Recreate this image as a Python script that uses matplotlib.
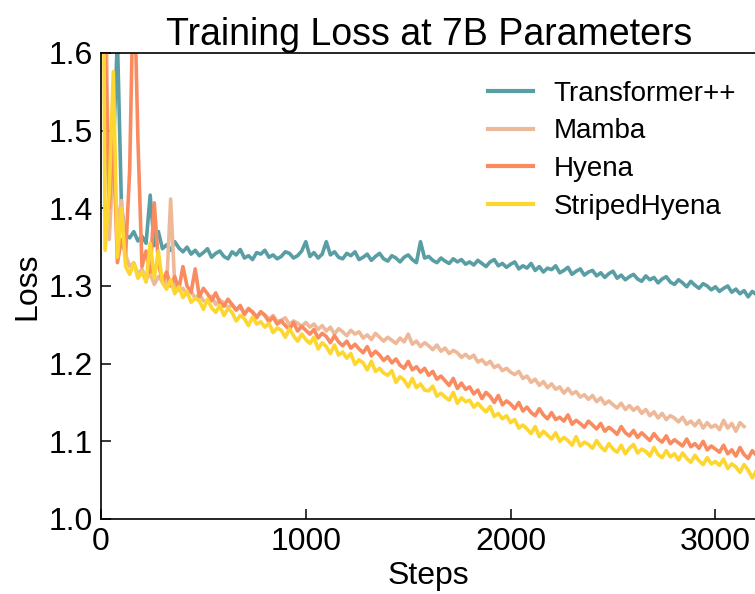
import numpy as np
import matplotlib
matplotlib.use("Agg")
import matplotlib.pyplot as plt

plt.rcParams['font.family'] = ['Liberation Sans', 'DejaVu Sans']

# training steps, one reading every 20 steps
steps = np.arange(0, 3201, 20)

transformer = [
    2.2, 1.55, 1.43, 1.47, 1.62, 1.40, 1.365, 1.362, 1.370, 1.358,
    1.364, 1.355, 1.417, 1.352, 1.370, 1.348, 1.353, 1.346, 1.357, 1.349,
    1.344, 1.350, 1.341, 1.346, 1.339, 1.343, 1.348, 1.337, 1.342, 1.345,
    1.338, 1.335, 1.344, 1.340, 1.347, 1.336, 1.339, 1.334, 1.343, 1.341,
    1.346, 1.337, 1.340, 1.335, 1.338, 1.344, 1.342, 1.336, 1.339, 1.345,
    1.357, 1.338, 1.343, 1.336, 1.341, 1.357, 1.340, 1.344, 1.337, 1.335,
    1.342, 1.339, 1.344, 1.334, 1.337, 1.341, 1.333, 1.338, 1.342, 1.335,
    1.332, 1.339, 1.336, 1.331, 1.337, 1.340, 1.334, 1.330, 1.357, 1.336,
    1.338, 1.333, 1.330, 1.336, 1.332, 1.329, 1.335, 1.331, 1.334, 1.328,
    1.331, 1.327, 1.333, 1.329, 1.325, 1.331, 1.334, 1.326, 1.329, 1.324,
    1.328, 1.331, 1.322, 1.326, 1.323, 1.329, 1.320, 1.325, 1.318, 1.323,
    1.321, 1.326, 1.317, 1.320, 1.324, 1.315, 1.319, 1.322, 1.314, 1.318,
    1.320, 1.313, 1.317, 1.311, 1.316, 1.319, 1.310, 1.314, 1.308, 1.312,
    1.315, 1.309, 1.306, 1.313, 1.308, 1.311, 1.304, 1.309, 1.312, 1.305,
    1.302, 1.308, 1.304, 1.299, 1.306, 1.301, 1.297, 1.303, 1.300, 1.295,
    1.299, 1.293, 1.297, 1.300, 1.292, 1.296, 1.290, 1.294, 1.286, 1.293, 1.289,
]

mamba = [
    2.1, 1.75, 1.36, 1.46, 1.38, 1.41, 1.34, 1.325, 1.33, 1.315,
    1.322, 1.308, 1.316, 1.302, 1.312, 1.306, 1.298, 1.412, 1.300, 1.294,
    1.297, 1.289, 1.293, 1.284, 1.290, 1.281, 1.279, 1.287, 1.276, 1.282,
    1.278, 1.272, 1.276, 1.269, 1.273, 1.265, 1.270, 1.267, 1.261, 1.266,
    1.263, 1.257, 1.262, 1.254, 1.256, 1.259, 1.250, 1.255, 1.252, 1.248,
    1.253, 1.247, 1.251, 1.244, 1.249, 1.242, 1.247, 1.238, 1.245, 1.241,
    1.236, 1.243, 1.238, 1.241, 1.233, 1.237, 1.231, 1.239, 1.234, 1.229,
    1.234, 1.230, 1.226, 1.233, 1.228, 1.238, 1.225, 1.229, 1.222, 1.227,
    1.223, 1.218, 1.224, 1.216, 1.220, 1.213, 1.217, 1.214, 1.208, 1.212,
    1.207, 1.211, 1.202, 1.205, 1.199, 1.203, 1.195, 1.198, 1.191, 1.194,
    1.189, 1.186, 1.190, 1.181, 1.184, 1.176, 1.180, 1.172, 1.177, 1.169,
    1.174, 1.167, 1.170, 1.162, 1.168, 1.161, 1.164, 1.157, 1.160, 1.154,
    1.159, 1.151, 1.156, 1.148, 1.152, 1.147, 1.143, 1.149, 1.141, 1.146,
    1.140, 1.144, 1.136, 1.141, 1.133, 1.138, 1.130, 1.136, 1.128, 1.133,
    1.130, 1.125, 1.131, 1.122, 1.126, 1.120, 1.127, 1.117, 1.124, 1.118,
    1.121, 1.115, 1.127, 1.117, 1.123, 1.113, 1.124, 1.119, np.nan, np.nan, np.nan,
]

hyena = [
    2.2, 1.62, 1.40, 1.49, 1.33, 1.36, 1.34, 1.45, 1.72, 1.49,
    1.325, 1.345, 1.318, 1.407, 1.330, 1.305, 1.318, 1.300, 1.312, 1.296,
    1.325, 1.300, 1.292, 1.322, 1.286, 1.297, 1.290, 1.281, 1.291, 1.279,
    1.274, 1.283, 1.276, 1.269, 1.275, 1.263, 1.271, 1.266, 1.259, 1.267,
    1.262, 1.254, 1.260, 1.251, 1.255, 1.249, 1.244, 1.253, 1.242, 1.248,
    1.243, 1.238, 1.244, 1.233, 1.239, 1.235, 1.227, 1.236, 1.228, 1.223,
    1.229, 1.220, 1.225, 1.219, 1.214, 1.222, 1.210, 1.216, 1.211, 1.204,
    1.209, 1.201, 1.206, 1.198, 1.194, 1.203, 1.192, 1.196, 1.189, 1.194,
    1.185, 1.190, 1.180, 1.184, 1.178, 1.172, 1.181, 1.168, 1.175, 1.167,
    1.170, 1.161, 1.166, 1.155, 1.163, 1.158, 1.150, 1.159, 1.147, 1.152,
    1.148, 1.142, 1.150, 1.139, 1.144, 1.137, 1.133, 1.142, 1.134, 1.129,
    1.137, 1.128, 1.131, 1.126, 1.134, 1.122, 1.127, 1.123, 1.118, 1.126,
    1.121, 1.116, 1.123, 1.113, 1.118, 1.114, 1.109, 1.119, 1.111, 1.107,
    1.114, 1.105, 1.111, 1.106, 1.101, 1.110, 1.103, 1.099, 1.107, 1.097,
    1.102, 1.098, 1.094, 1.103, 1.093, 1.097, 1.091, 1.100, 1.089, 1.094,
    1.090, 1.086, 1.095, 1.084, 1.089, 1.081, 1.092, 1.083, 1.078, 1.088, 1.082,
]

striped = [
    2.3, 1.346, 1.42, 1.576, 1.337, 1.40, 1.325, 1.315, 1.33, 1.31,
    1.318, 1.305, 1.355, 1.310, 1.345, 1.304, 1.296, 1.308, 1.290, 1.299,
    1.285, 1.293, 1.279, 1.284, 1.281, 1.270, 1.283, 1.272, 1.266, 1.275,
    1.262, 1.271, 1.266, 1.255, 1.262, 1.258, 1.249, 1.260, 1.251, 1.254,
    1.247, 1.252, 1.240, 1.246, 1.243, 1.234, 1.245, 1.236, 1.229, 1.238,
    1.231, 1.226, 1.234, 1.219, 1.227, 1.222, 1.213, 1.224, 1.211, 1.215,
    1.207, 1.213, 1.199, 1.205, 1.201, 1.192, 1.203, 1.190, 1.194, 1.188,
    1.185, 1.191, 1.176, 1.183, 1.179, 1.170, 1.181, 1.169, 1.174, 1.166,
    1.165, 1.171, 1.158, 1.162, 1.157, 1.153, 1.163, 1.149, 1.156, 1.151,
    1.153, 1.144, 1.149, 1.143, 1.138, 1.145, 1.132, 1.136, 1.129, 1.133,
    1.124, 1.128, 1.117, 1.121, 1.116, 1.110, 1.119, 1.106, 1.113, 1.108,
    1.103, 1.111, 1.100, 1.105, 1.101, 1.095, 1.106, 1.094, 1.099, 1.096,
    1.091, 1.101, 1.093, 1.088, 1.097, 1.090, 1.086, 1.095, 1.084, 1.091,
    1.096, 1.085, 1.090, 1.087, 1.081, 1.092, 1.083, 1.079, 1.088, 1.080,
    1.084, 1.076, 1.085, 1.078, 1.073, 1.082, 1.075, 1.070, 1.079, 1.071,
    1.074, 1.069, 1.077, 1.065, 1.071, 1.067, 1.060, 1.070, 1.063, 1.053, 1.062,
]

series_names = ["Transformer++", "Mamba", "Hyena", "StripedHyena"]
series_colors = ["#5a9ea5", "#eeb999", "#fa8b61", "#fdd630"]

fig = plt.figure(figsize=(7.55, 5.94), dpi=100)
ax = fig.add_axes([0.1338, 0.1263, 0.868, 0.7845])

for vals, name, col in zip([transformer, mamba, hyena, striped], series_names, series_colors):
    ax.plot(steps, vals, color=col, lw=2.6, label=name)

ax.set_xlim(0, 3200)
ax.set_ylim(1.0, 1.6)
ax.set_xticks([0, 1000, 2000, 3000])
ax.set_yticks([1.0, 1.1, 1.2, 1.3, 1.4, 1.5, 1.6])
ax.set_yticklabels(["1.0", "1.1", "1.2", "1.3", "1.4", "1.5", "1.6"])
ax.tick_params(direction='in', length=7, width=1.1, labelsize=23, pad=6)
for s in ax.spines.values():
    s.set_linewidth(1.2)

ax.set_xlabel("Steps", fontsize=23, labelpad=3)
ax.set_ylabel("Loss", fontsize=23, labelpad=4)
ax.set_title("Training Loss at 7B Parameters", fontsize=27, pad=6)

leg = ax.legend(loc='upper left', bbox_to_anchor=(0.632, 0.883), bbox_transform=fig.transFigure,
                frameon=False, fontsize=20, handlelength=1.6, handletextpad=0.75,
                labelspacing=0.42, borderaxespad=0)
for h in leg.get_lines():
    h.set_linewidth(3)

fig.savefig("out.png", dpi=100)
